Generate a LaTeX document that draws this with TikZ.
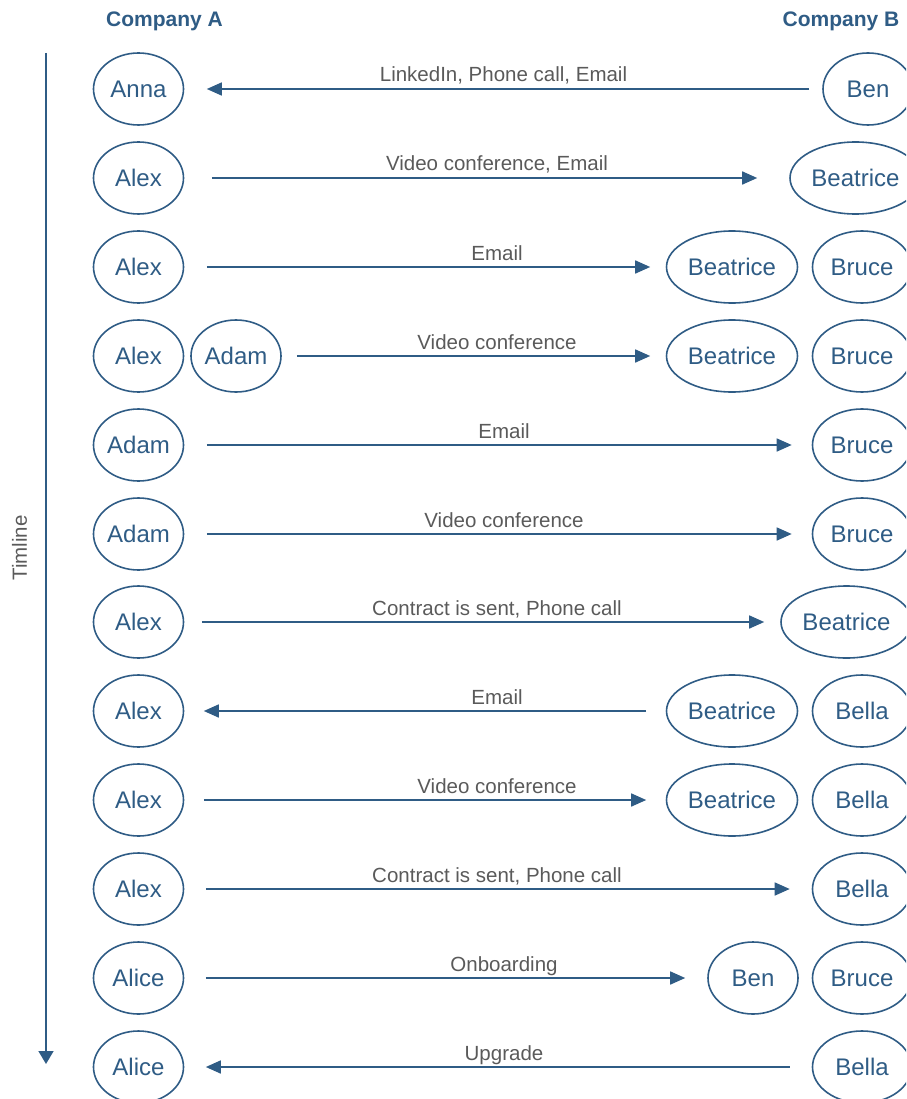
\documentclass[tikz,border=0pt]{standalone}
\usepackage{fontspec}
\setmainfont{Liberation Sans}
\usetikzlibrary{shapes.geometric,arrows.meta}
\definecolor{dblue}{RGB}{47,92,133}
\definecolor{lgray}{RGB}{90,90,90}
\tikzset{
  person/.style={ellipse,draw=dblue,line width=1.6pt,text=dblue,inner sep=0pt,
    minimum width=90pt,minimum height=72pt,font=\fontsize{24}{28}\selectfont},
  wide/.style={person,minimum width=131pt},
  mid/.style={person,minimum width=99pt},
  msg/.style={draw=dblue,line width=1.6pt,-{Triangle[length=15pt,width=13pt]}},
  lbl/.style={anchor=base,text=lgray,font=\fontsize{20.5}{24}\selectfont,inner sep=0pt},
  head/.style={anchor=base,text=dblue,font=\fontsize{21}{24}\selectfont\bfseries,inner sep=0pt}
}
\begin{document}
\begin{tikzpicture}[x=1pt,y=-1pt]
\useasboundingbox (0,0) rectangle (906,1099);
\clip (0,0) rectangle (906,1099);
% headers
\node[head] (hA) at (164.5,26.5) {Company A};
\node[head] (hB) at (841,26.5) {Company B};
% timeline
\coordinate (t0) at (46,53);
\coordinate (t1) at (46,1064);
\draw[draw=dblue,line width=1.6pt,-{Triangle[length=13pt,width=15pt]}] (t0) -- (t1);
\node[rotate=90,anchor=base,text=lgray,font=\fontsize{20.5}{24}\selectfont,inner sep=0pt] (tl) at (27,548) {Timline};
% row 1
\node[person] (a1) at (138.5,89) {Anna};
\node[person] (b1) at (868,89) {Ben};
\draw[msg,shorten <=13pt,shorten >=22.5pt] (b1) -- (a1);
\node[lbl] (l1) at (503.5,82) {LinkedIn, Phone call, Email};
% row 2
\node[person] (a2) at (138.5,178) {Alex};
\node[wide] (b2) at (855.5,178) {Beatrice};
\draw[msg,shorten <=27.5pt,shorten >=32pt] (a2) -- (b2);
\node[lbl] (l2) at (497,171) {Video conference, Email};
% row 3
\node[person] (a3) at (138.5,267) {Alex};
\node[wide] (b3) at (732,267) {Beatrice};
\node[mid] (c3) at (862,267) {Bruce};
\draw[msg,shorten <=22.5pt,shorten >=15.5pt] (a3) -- (b3);
\node[lbl] (l3) at (497,260) {Email};
% row 4
\node[person] (a4) at (138.5,356) {Alex};
\node[person] (d4) at (236,356) {Adam};
\node[wide] (b4) at (732,356) {Beatrice};
\node[mid] (c4) at (862,356) {Bruce};
\draw[msg,shorten <=15pt,shorten >=15.5pt] (d4) -- (b4);
\node[lbl] (l4) at (497,349) {Video conference};
% row 5
\node[person] (a5) at (138.5,445) {Adam};
\node[mid] (c5) at (862,445) {Bruce};
\draw[msg,shorten <=22.5pt,shorten >=20pt] (a5) -- (c5);
\node[lbl] (l5) at (504,438) {Email};
% row 6
\node[person] (a6) at (138.5,534) {Adam};
\node[mid] (c6) at (862,534) {Bruce};
\draw[msg,shorten <=22.5pt,shorten >=20pt] (a6) -- (c6);
\node[lbl] (l6) at (504,527) {Video conference};
% row 7
\node[person] (a7) at (138.5,622) {Alex};
\node[wide] (b7) at (846.5,622) {Beatrice};
\draw[msg,shorten <=17.5pt,shorten >=16pt] (a7) -- (b7);
\node[lbl] (l7) at (497,615) {Contract is sent, Phone call};
% row 8
\node[person] (a8) at (138.5,711) {Alex};
\node[wide] (b8) at (732,711) {Beatrice};
\node[mid] (c8) at (862,711) {Bella};
\draw[msg,shorten <=19.5pt,shorten >=19.5pt] (b8) -- (a8);
\node[lbl] (l8) at (497,704) {Email};
% row 9
\node[person] (a9) at (138.5,800) {Alex};
\node[wide] (b9) at (732,800) {Beatrice};
\node[mid] (c9) at (862,800) {Bella};
\draw[msg,shorten <=19.5pt,shorten >=19.5pt] (a9) -- (b9);
\node[lbl] (l9) at (497,793) {Video conference};
% row 10
\node[person] (a10) at (138.5,889) {Alex};
\node[mid] (c10) at (862,889) {Bella};
\draw[msg,shorten <=21.5pt,shorten >=22pt] (a10) -- (c10);
\node[lbl] (l10) at (497,882) {Contract is sent, Phone call};
% row 11
\node[person] (a11) at (138.5,978) {Alice};
\node[person] (b11) at (753,978) {Ben};
\node[mid] (c11) at (862,978) {Bruce};
\draw[msg,shorten <=21.5pt,shorten >=22pt] (a11) -- (b11);
\node[lbl] (l11) at (504,971) {Onboarding};
% row 12
\node[person] (a12) at (138.5,1067) {Alice};
\node[mid] (c12) at (862,1067) {Bella};
\draw[msg,shorten <=22pt,shorten >=21.5pt] (c12) -- (a12);
\node[lbl] (l12) at (504,1060) {Upgrade};
\end{tikzpicture}
\end{document}
